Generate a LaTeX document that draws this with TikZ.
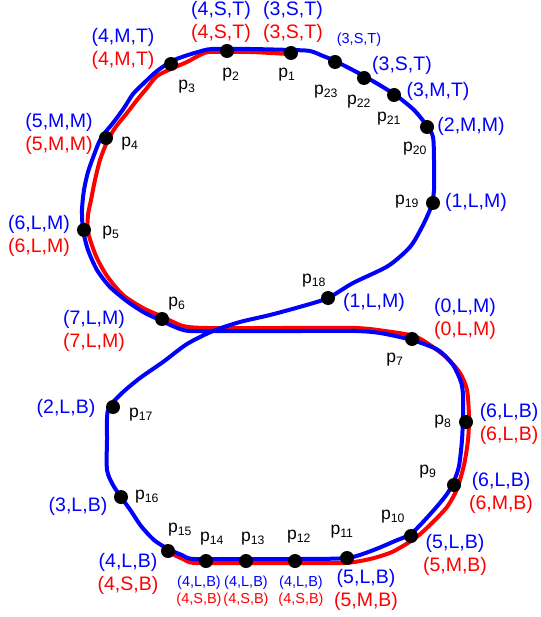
\documentclass[tikz,border=0pt]{standalone}
\usepackage{fontspec}
\setmainfont{Liberation Sans}
\begin{document}
\begin{tikzpicture}[x=1pt,y=-1pt]
\tikzset{
  traj/.style={line width=4pt, line join=round, line cap=round},
  dot/.style={circle, fill=black, minimum size=14pt, inner sep=0pt},
  plab/.style={font=\fontsize{17.5}{20}\selectfont, inner sep=0pt},
  lab/.style={font=\fontsize{19.5}{22.5}\selectfont, align=center, inner sep=0pt},
  slab/.style={font=\fontsize{14.5}{16.5}\selectfont, align=center, inner sep=0pt},
}
\useasboundingbox (0,0) rectangle (540,617);

% red trajectory (open, from p1 round both lobes to p15)
\draw[traj, red] plot[smooth, tension=0.45] coordinates {
  (288,54) (250,52) (210,52) (200,55) (187,62) (173,68) (157,76) (147,88)
  (137,100) (127,113) (115,128) (107,142) (100,160) (95,180) (91,200) (88,215)
  (88,232) (96,256) (107,276) (123,295) (143,308) (163,317) (183,326) (207,328)
  (280,328) (355,328) (385,331) (414,336) (430,345) (447,358) (460,373) (467,390)
  (469,417) (468,440) (464,465) (457,489) (447,507) (430,525) (414,539)
  (392,552) (370,559) (345,563) (300,563) (250,563) (195,563) (183,559) (168,552)
};

% blue trajectory (closed figure of eight)
\draw[traj, blue] plot[smooth cycle, tension=0.45] coordinates {
  (291,50) (310,51) (323,56) (335,61) (364,76) (394,94) (414,110) (427,126)
  (433,137) (434,160) (434,190) (431,207) (422,227) (410,247) (388,266)
  (353,283) (328,298) (303,306) (270,315) (240,322) (213,331) (187,344)
  (163,362) (140,378) (121,394) (108,410) (107,440) (107,470) (113,485)
  (121,497) (131,511) (141,526) (154,540) (168,549) (182,555) (194,559)
  (250,559) (300,559) (347,558) (371,551) (395,541) (412,533) (433,511)
  (447,494) (454,481) (459,466) (462,440) (463,415) (463,395) (461,382)
  (453,365) (438,350) (412,340) (380,333) (355,331) (300,331) (240,331)
  (190,331) (175,327) (160,320) (145,313) (128,302) (110,287) (97,270)
  (88,250) (83,230) (82,210) (84,190) (88,172) (94,155) (101,138) (113,123)
  (124,108) (133,94) (144,83) (157,71) (172,61) (185,56) (198,52) (212,49)
  (250,49)
};

% sample points
\foreach \n/\px/\py in {
  1/291/53, 2/227/51, 3/171/64, 4/106/138, 5/84/230, 6/162/319,
  7/412/339, 8/466/422, 9/454/485, 10/411/536, 11/347/558, 12/295/561,
  13/246/561, 14/206/561, 15/168/551, 16/121/497, 17/113/407, 18/328/298,
  19/433/203, 20/427/127, 21/394/95, 22/364/78, 23/335/62}
  \node[dot] (p\n) at (\px,\py) {};

% point names
\foreach \n/\px/\py in {
  1/287/75, 2/231/75, 3/187/87, 4/130/144, 5/111/233, 6/177/304,
  7/395/360, 8/443/422, 9/428/472, 10/393/517, 11/342/532, 12/299/537,
  13/253/539, 14/212/539, 15/180/530, 16/147/497, 17/141/415, 18/314/281,
  19/407/202, 20/415/149, 21/389/119, 22/359/102, 23/326/92}
  \node[plab] (n\n) at (\px,\py) {p\textsubscript{\n}};

% states on both trajectories
\node[lab] (s2)  at (221,22)  {\textcolor{blue}{(4,S,T)}\\\textcolor{red}{(4,S,T)}};
\node[lab] (s1)  at (293,22)  {\textcolor{blue}{(3,S,T)}\\\textcolor{red}{(3,S,T)}};
\node[lab] (s3)  at (123,49)  {\textcolor{blue}{(4,M,T)}\\\textcolor{red}{(4,M,T)}};
\node[lab] (s4)  at (59,134)  {\textcolor{blue}{(5,M,M)}\\\textcolor{red}{(5,M,M)}};
\node[lab] (s5)  at (39,236)  {\textcolor{blue}{(6,L,M)}\\\textcolor{red}{(6,L,M)}};
\node[lab] (s6)  at (94,331)  {\textcolor{blue}{(7,L,M)}\\\textcolor{red}{(7,L,M)}};
\node[lab] (s7)  at (465,319) {\textcolor{blue}{(0,L,M)}\\\textcolor{red}{(0,L,M)}};
\node[lab] (s8)  at (509,424) {\textcolor{blue}{(6,L,B)}\\\textcolor{red}{(6,L,B)}};
\node[lab] (s9)  at (501,493) {\textcolor{blue}{(6,L,B)}\\\textcolor{red}{(6,M,B)}};
\node[lab] (s10) at (455,555) {\textcolor{blue}{(5,L,B)}\\\textcolor{red}{(5,M,B)}};
\node[lab] (s11) at (366,590) {\textcolor{blue}{(5,L,B)}\\\textcolor{red}{(5,M,B)}};
\node[lab] (s15) at (128,574) {\textcolor{blue}{(4,L,B)}\\\textcolor{red}{(4,S,B)}};
\node[slab] (s14) at (199,591) {\textcolor{blue}{(4,L,B)}\\\textcolor{red}{(4,S,B)}};
\node[slab] (s13) at (246,591) {\textcolor{blue}{(4,L,B)}\\\textcolor{red}{(4,S,B)}};
\node[slab] (s12) at (301,591) {\textcolor{blue}{(4,L,B)}\\\textcolor{red}{(4,S,B)}};

% states on the blue trajectory only
\node[slab, blue] (s23) at (359,40)  {(3,S,T)};
\node[lab, blue]  (s22) at (402,65)  {(3,S,T)};
\node[lab, blue]  (s21) at (438,91)  {(3,M,T)};
\node[lab, blue]  (s20) at (471,126) {(2,M,M)};
\node[lab, blue]  (s19) at (476,202) {(1,L,M)};
\node[lab, blue]  (s18) at (374,302) {(1,L,M)};
\node[lab, blue]  (s17) at (66,408)  {(2,L,B)};
\node[lab, blue]  (s16) at (78,506)  {(3,L,B)};
\end{tikzpicture}
\end{document}
